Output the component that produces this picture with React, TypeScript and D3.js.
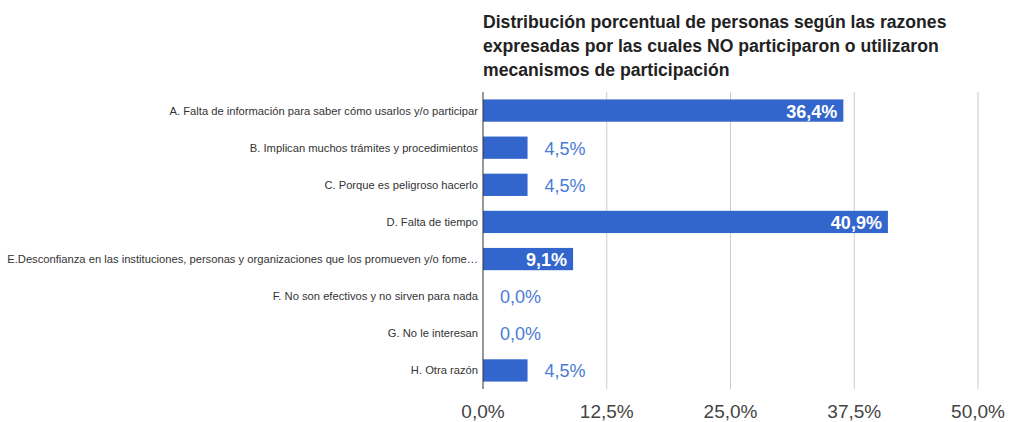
import React from "react";
import * as d3 from "d3";

const categories = [
  "A. Falta de información para saber cómo usarlos y/o participar",
  "B. Implican muchos trámites y procedimientos",
  "C. Porque es peligroso hacerlo",
  "D. Falta de tiempo",
  "E.Desconfianza en las instituciones, personas y organizaciones que los promueven y/o fome…",
  "F. No son efectivos y no sirven para nada",
  "G. No le interesan",
  "H. Otra razón",
];
const values = [36.4, 4.5, 4.5, 40.9, 9.1, 0.0, 0.0, 4.5];
const ticks = [0, 12.5, 25, 37.5, 50];
const titleLines = [
  "Distribución porcentual de personas según las razones",
  "expresadas por las cuales NO participaron o utilizaron",
  "mecanismos de participación",
];

const W = 1009;
const H = 422;
const left = 483;
const right = 978;
const top = 92;
const bottom = 389;
const font = "'Liberation Sans', Arial, sans-serif";
const fmt = (v: number) => v.toFixed(1).replace(".", ",") + "%";

export default function App() {
  const x = d3.scaleLinear().domain([0, 50]).range([left, right]);
  const y = d3.scaleBand().domain(categories).range([top, bottom]).paddingInner(0.4).paddingOuter(0.2);
  return (
    <svg width={W} height={H} style={{ position: "absolute", left: 0, top: 0 }} fontFamily={font}>
      <rect width={W} height={H} fill="#fff" />
      {titleLines.map((t, i) => (
        <text key={i} x={left} y={28 + i * 24} fontSize={17.6} fontWeight="bold" fill="#222">
          {t}
        </text>
      ))}
      {ticks.map((t) => (
        <g key={t}>
          {t > 0 && <line x1={x(t)} x2={x(t)} y1={top} y2={bottom} stroke="#ccc" strokeWidth={1} />}
          <text x={x(t)} y={418} textAnchor="middle" fontSize={19} fill="#444">
            {fmt(t)}
          </text>
        </g>
      ))}
      {categories.map((c, i) => {
        const v = values[i];
        const by = y(c)!;
        const bh = y.bandwidth();
        const bw = x(v) - x(0);
        const cy = by + bh / 2;
        const inside = bw > 70;
        return (
          <g key={c}>
            {v > 0 && <rect x={x(0)} y={by} width={bw} height={bh} fill="#3366cc" />}
            <text x={left - 5} y={cy + 4} textAnchor="end" fontSize={11.2} fill="#333">
              {c}
            </text>
            {inside ? (
              <text x={x(v) - 6} y={cy + 7} textAnchor="end" fontSize={18} fontWeight="bold" fill="#fff">
                {fmt(v)}
              </text>
            ) : (
              <text x={x(v) + 17} y={cy + 7} textAnchor="start" fontSize={18} fill="#4a7bd6">
                {fmt(v)}
              </text>
            )}
          </g>
        );
      })}
      <line x1={left} x2={left} y1={top} y2={bottom} stroke="#333" strokeWidth={1} />
    </svg>
  );
}
